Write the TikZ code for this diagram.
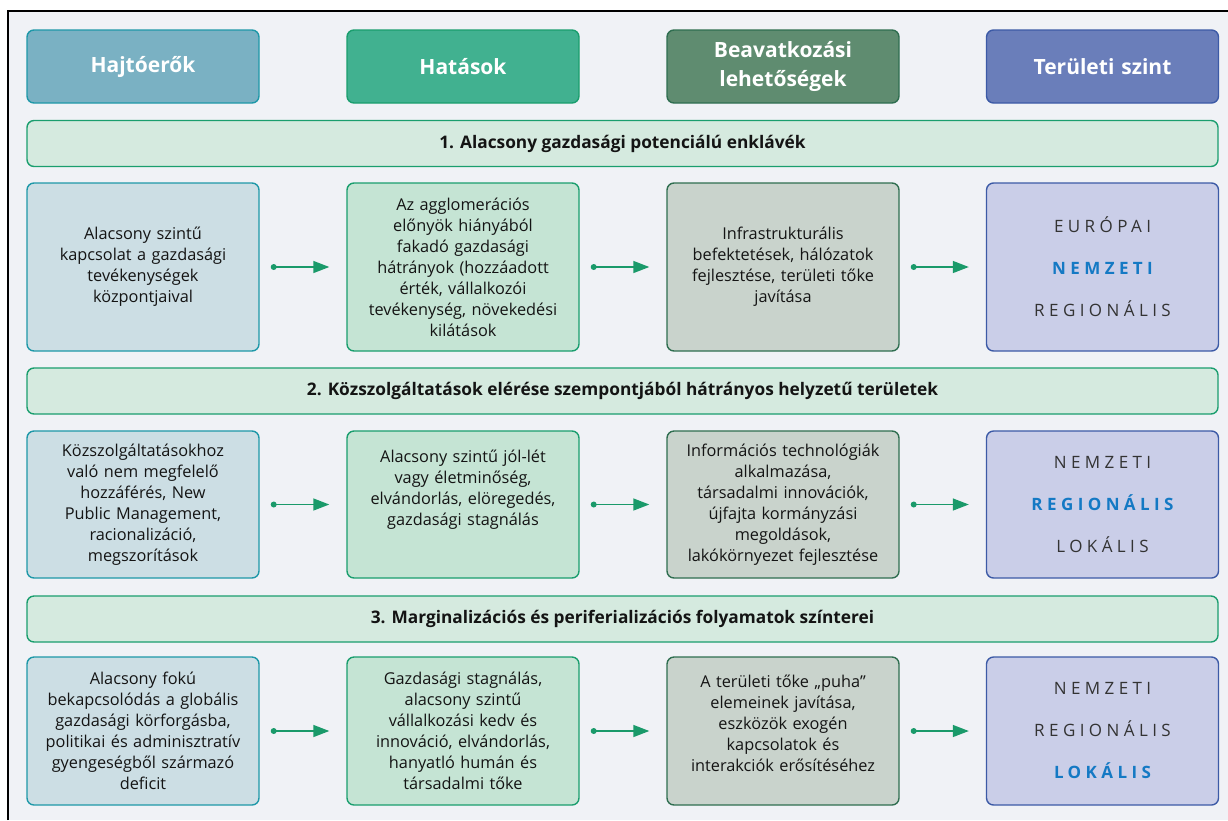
\documentclass[tikz,border=0pt]{standalone}
\usepackage{fontspec}
\setmainfont{Open Sans}
\newfontfamily\lvlfont[LetterSpace=26]{Open Sans}
\usetikzlibrary{arrows.meta}
\definecolor{bgc}{HTML}{F0F2F6}
\definecolor{hAf}{HTML}{7AB1C3}\definecolor{hAd}{HTML}{1E98A8}
\definecolor{hBf}{HTML}{41B190}\definecolor{hBd}{HTML}{1A9E6E}
\definecolor{hCf}{HTML}{5F8C70}\definecolor{hCd}{HTML}{2F6E50}
\definecolor{hDf}{HTML}{6A7EBA}\definecolor{hDd}{HTML}{3C5AA6}
\definecolor{cA}{HTML}{CCDEE4}
\definecolor{cB}{HTML}{C5E4D4}
\definecolor{cC}{HTML}{C9D3CC}
\definecolor{cD}{HTML}{CACEE8}
\definecolor{bandf}{HTML}{D5EADF}
\definecolor{arr}{HTML}{1A9A6A}
\definecolor{lvlblue}{HTML}{1479C4}
\definecolor{txt}{HTML}{141414}
\definecolor{lvltxt}{HTML}{333333}
\begin{document}
\begin{tikzpicture}[x=1pt,y=-1pt,
  box/.style={rounded corners=7pt,line width=1.4pt,minimum width=232pt,inner sep=0pt,align=center,text width=222pt},
  hdr/.style={box,minimum height=73pt,text=white,font=\fontsize{21}{29}\selectfont\bfseries},
  cell/.style={box,text=txt,font=\fontsize{16.3}{21}\selectfont},
  lvl/.style={box,text=lvltxt,font=\lvlfont\fontsize{17}{42}\selectfont},
  band/.style={rounded corners=7pt,line width=1.4pt,draw=hBd,fill=bandf,minimum width=1191pt,minimum height=46pt,inner sep=0pt,font=\fontsize{17.3}{20}\selectfont\bfseries,text=txt},
  flow/.style={draw=arr,line width=1.4pt,-{Triangle[length=16pt,width=12pt]}}
]
\useasboundingbox (0,0) rectangle (1228,820);
\fill[white] (0,0) rectangle (1228,820);
\fill[bgc] (7.5,10.5) rectangle (1228,820);
\draw[black,line width=2pt] (7.5,820) -- (7.5,10.5) -- (1228,10.5);

% headers
\node[hdr,draw=hAd,fill=hAf] (h1) at (143,66.5) {Hajtóerők};
\node[hdr,draw=hBd,fill=hBf] (h2) at (463,66.5) {Hatások};
\node[hdr,draw=hCd,fill=hCf] (h3) at (783,66.5) {Beavatkozási\\lehetőségek};
\node[hdr,draw=hDd,fill=hDf] (h4) at (1102.5,66.5) {Területi szint};

% bands
\node[band] (b1) at (622.5,143.5) {1. Alacsony gazdasági potenciálú enklávék};
\node[band] (b2) at (622.5,391) {2. Közszolgáltatások elérése szempontjából hátrányos helyzetű területek};
\node[band] (b3) at (622.5,619) {3. Marginalizációs és periferializációs folyamatok színterei};

% row 1
\node[cell,draw=hAd,fill=cA,minimum height=168pt] (r1a) at (143,267) {Alacsony szintű\\kapcsolat a gazdasági\\tevékenységek\\központjaival};
\node[cell,draw=hBd,fill=cB,minimum height=168pt] (r1b) at (463,267) {Az agglomerációs\\előnyök hiányából\\fakadó gazdasági\\hátrányok (hozzáadott\\érték, vállalkozói\\tevékenység, növekedési\\kilátások};
\node[cell,draw=hCd,fill=cC,minimum height=168pt] (r1c) at (783,267) {Infrastrukturális\\befektetések, hálózatok\\fejlesztése, területi tőke\\javítása};
\node[lvl,draw=hDd,fill=cD,minimum height=168pt] (r1d) at (1102.5,267) {EURÓPAI\\{\bfseries\color{lvlblue}NEMZETI}\\REGIONÁLIS};

% row 2
\node[cell,draw=hAd,fill=cA,minimum height=147pt] (r2a) at (143,504.5) {Közszolgáltatásokhoz\\való nem megfelelő\\hozzáférés, New\\Public Management,\\racionalizáció,\\megszorítások};
\node[cell,draw=hBd,fill=cB,minimum height=147pt] (r2b) at (463,504.5) {Alacsony szintű jól-lét\\vagy életminőség,\\elvándorlás, elöregedés,\\gazdasági stagnálás\\[6pt]\strut};
\node[cell,draw=hCd,fill=cC,minimum height=147pt] (r2c) at (783,504.5) {Információs technológiák\\alkalmazása,\\társadalmi innovációk,\\újfajta kormányzási\\megoldások,\\lakókörnyezet fejlesztése};
\node[lvl,draw=hDd,fill=cD,minimum height=147pt] (r2d) at (1102.5,504.5) {NEMZETI\\{\bfseries\color{lvlblue}REGIONÁLIS}\\LOKÁLIS};

% row 3
\node[cell,draw=hAd,fill=cA,minimum height=148pt] (r3a) at (143,731) {Alacsony fokú\\bekapcsolódás a globális\\gazdasági körforgásba,\\politikai és adminisztratív\\gyengeségből származó\\deficit};
\node[cell,draw=hBd,fill=cB,minimum height=148pt] (r3b) at (463,731) {Gazdasági stagnálás,\\alacsony szintű\\vállalkozási kedv és\\innováció, elvándorlás,\\hanyatló humán és\\társadalmi tőke};
\node[cell,draw=hCd,fill=cC,minimum height=148pt] (r3c) at (783,731) {A területi tőke „puha”\\elemeinek javítása,\\eszközök exogén\\kapcsolatok és\\interakciók erősítéséhez\\[-11pt]\strut};
\node[lvl,draw=hDd,fill=cD,minimum height=148pt] (r3d) at (1102.5,731) {NEMZETI\\REGIONÁLIS\\{\bfseries\color{lvlblue}LOKÁLIS}};

% arrows
\foreach \r in {1,2,3}{
  \foreach \p/\q in {a/b,b/c,c/d}{
    \fill[arr] ([xshift=14pt]r\r\p.east) circle (3pt);
    \draw[flow] ([xshift=14pt]r\r\p.east) -- ([xshift=-17pt]r\r\q.west);
  }
}
\end{tikzpicture}
\end{document}
